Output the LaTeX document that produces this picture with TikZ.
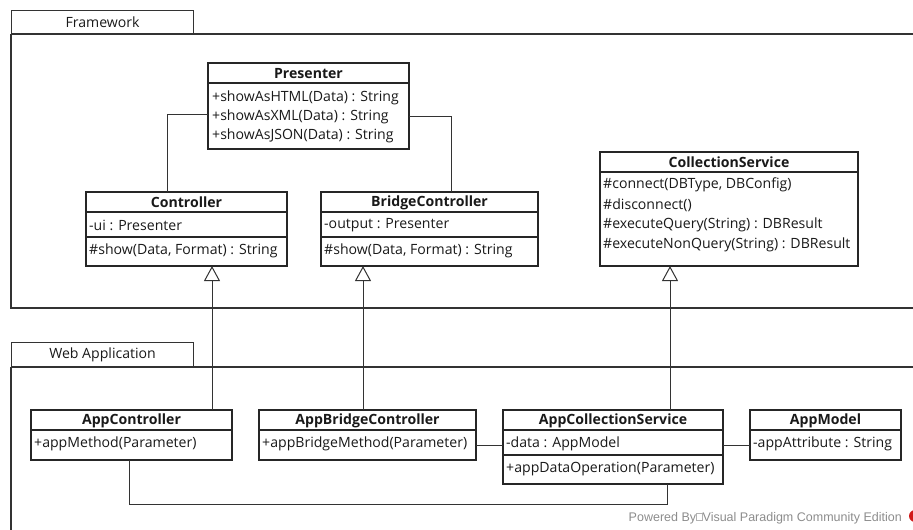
\documentclass[tikz,border=0pt]{standalone}
\usepackage{fontspec}
\setmainfont{Open Sans}
\newfontfamily\footfont{Liberation Sans}
\usetikzlibrary{arrows.meta}
\begin{document}
\begin{tikzpicture}[x=1pt,y=-1pt,
  txt/.style={font=\fontsize{14.1}{16}\selectfont, text=black!90},
  box/.style={draw=black!85, line width=1.1pt, fill=white, anchor=north west,
    inner sep=0pt, outer sep=0pt},
  head/.style={txt, font=\fontsize{14.1}{16}\selectfont\bfseries, anchor=center, inner sep=0pt},
  row/.style={txt, anchor=west, inner sep=0pt},
  sep/.style={draw=black!85, line width=1.1pt},
  pkg/.style={draw=black!80, line width=1.1pt},
  pkgtab/.style={draw=black!80, line width=1.1pt, anchor=north west, inner sep=0pt,
    minimum width=182pt, minimum height=24pt, txt},
  link/.style={draw=black!80, line width=1pt},
  gen/.style={link, -{Triangle[open, length=15pt, width=16pt, fill=white]}},
]
\useasboundingbox (0,0) rectangle (913,530);
\clip (0,0) rectangle (913,530);

% ---------- packages ----------
\node[pkgtab] (fwtab) at (11,10) {Framework};
\draw[pkg] (11,34) -- (920,34);
\draw[pkg] (11,34) -- (11,308) -- (920,308);

\node[pkgtab, minimum height=25pt] (watab) at (11,342) {Web Application};
\draw[pkg] (11,367) -- (920,367);
\draw[pkg] (11,367) -- (11,540);

% ---------- Framework classes ----------
% Presenter
\node[box, minimum width=201pt, minimum height=86pt] (presenter) at (208,63) {};
\draw[sep] (208,83) -- (409,83);
\node[head] (presenterH) at (308.5,73.5) {Presenter};
\node[row] (presenterO1) at (212,98) {+showAsHTML(Data) : String};
\node[row] (presenterO2) at (212,117) {+showAsXML(Data) : String};
\node[row] (presenterO3) at (212,136) {+showAsJSON(Data) : String};

% Controller
\node[box, minimum width=201pt, minimum height=74pt] (controller) at (86,192) {};
\draw[sep] (86,212) -- (287,212);
\draw[sep] (86,237) -- (287,237);
\node[head] (controllerH) at (186.5,202.5) {Controller};
\node[row] (controllerA) at (89,225.5) {-ui : Presenter};
\node[row] (controllerO) at (89,251) {\#show(Data, Format) : String};

% BridgeController
\node[box, minimum width=217pt, minimum height=74pt] (bridge) at (321,192) {};
\draw[sep] (321,212) -- (538,212);
\draw[sep] (321,237) -- (538,237);
\node[head] (bridgeH) at (429.5,202.5) {BridgeController};
\node[row] (bridgeA) at (324,225.5) {-output : Presenter};
\node[row] (bridgeO) at (324,251) {\#show(Data, Format) : String};

% CollectionService
\node[box, minimum width=258pt, minimum height=114pt] (collsvc) at (600,152) {};
\draw[sep] (600,172) -- (858,172);
\node[head] (collsvcH) at (729,162.5) {CollectionService};
\node[row] (collsvcO1) at (603,185) {\#connect(DBType, DBConfig)};
\node[row] (collsvcO2) at (603,205) {\#disconnect()};
\node[row] (collsvcO3) at (603,225) {\#executeQuery(String) : DBResult};
\node[row] (collsvcO4) at (603,245) {\#executeNonQuery(String) : DBResult};

% ---------- Web Application classes ----------
% AppController
\node[box, minimum width=201pt, minimum height=50pt] (appctrl) at (31,410) {};
\draw[sep] (31,430) -- (232,430);
\node[head] (appctrlH) at (131.5,420.5) {AppController};
\node[row] (appctrlO) at (34,444) {+appMethod(Parameter)};

% AppBridgeController
\node[box, minimum width=217pt, minimum height=50pt] (appbridge) at (259,410) {};
\draw[sep] (259,430) -- (476,430);
\node[head] (appbridgeH) at (367.5,420.5) {AppBridgeController};
\node[row] (appbridgeO) at (262,444) {+appBridgeMethod(Parameter)};

% AppCollectionService
\node[box, minimum width=220pt, minimum height=74pt] (appcoll) at (503,410) {};
\draw[sep] (503,430) -- (723,430);
\draw[sep] (503,455) -- (723,455);
\node[head] (appcollH) at (613,420.5) {AppCollectionService};
\node[row] (appcollA) at (506,444) {-data : AppModel};
\node[row] (appcollO) at (506,469) {+appDataOperation(Parameter)};

% AppModel
\node[box, minimum width=151pt, minimum height=50pt] (appmodel) at (750,410) {};
\draw[sep] (750,430) -- (901,430);
\node[head] (appmodelH) at (825.5,420.5) {AppModel};
\node[row] (appmodelA) at (753,444) {-appAttribute : String};

% ---------- connectors ----------
% associations from Presenter
\draw[link] ([yshift=-8pt]presenter.west) -| ([xshift=-19.5pt]controller.north);
\draw[link] ([yshift=-10pt]presenter.east) -| ([xshift=21.5pt]bridge.north);

% generalizations
\draw[gen] ([xshift=80.5pt]appctrl.north) -- ([xshift=80.5pt]appctrl.north |- controller.south);
\draw[gen] ([xshift=-4.5pt]appbridge.north) -- ([xshift=-4.5pt]appbridge.north |- bridge.south);
\draw[gen] ([xshift=57pt]appcoll.north) -- ([xshift=57pt]appcoll.north |- collsvc.south);

% associations inside the web application
\draw[link] ([yshift=-10pt]appbridge.east) -- ([yshift=-10pt]appbridge.east -| appcoll.west);
\draw[link] ([yshift=-10pt]appmodel.west) -- ([yshift=-10pt]appmodel.west -| appcoll.east);
\coordinate (busL) at ([xshift=-2.5pt,yshift=-44pt]appctrl.south);
\draw[link] ([xshift=-2.5pt]appctrl.south) -- (busL) -| ([xshift=54pt]appcoll.south);

% ---------- footer ----------
\node[anchor=east, inner sep=0pt, text=black!45, font=\footfont\fontsize{12.5}{14}\selectfont]
  (footer) at (902,518) {Powered By\tikz[baseline=-0.5pt]\draw[black!30, line width=0.5pt] (0,0) rectangle (6,-7);Visual Paradigm Community Edition};
\fill[red!80!black!90] (915,516) circle (6);
\end{tikzpicture}
\end{document}
